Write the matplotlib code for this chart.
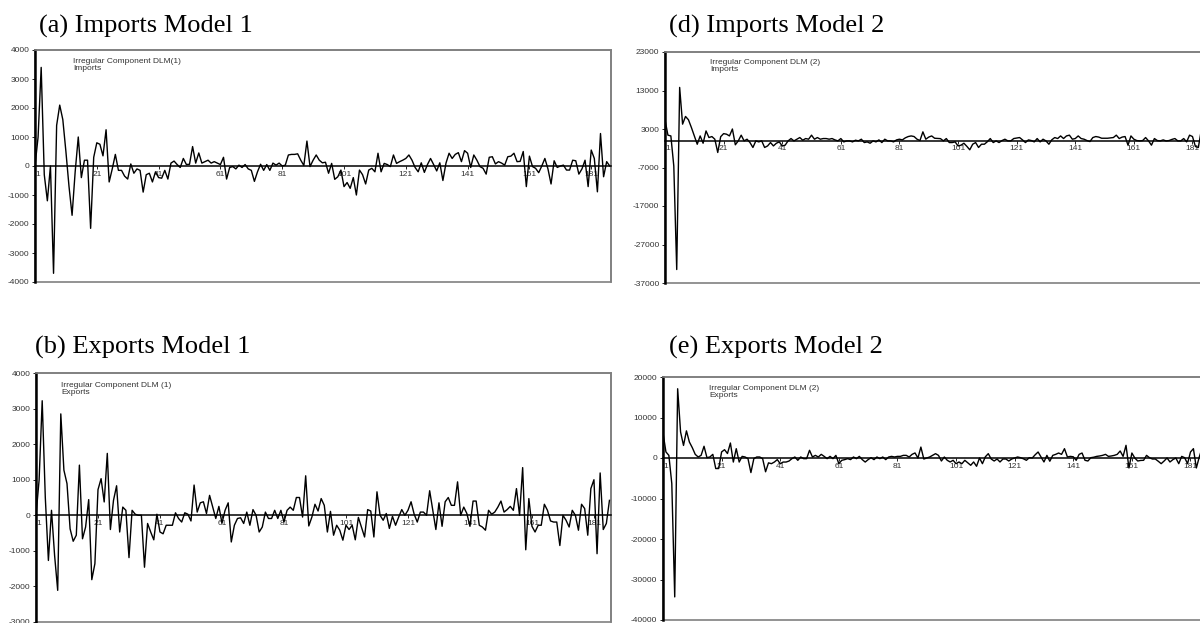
import numpy as np
import matplotlib as mpl
import matplotlib.pyplot as plt
from matplotlib.patches import Rectangle

mpl.rcParams['axes.unicode_minus'] = False
mpl.rcParams['font.family'] = 'Liberation Sans'

W, H = 1200, 623

# irregular components
imports_m1 = [0, 1000, 3400, -300, -1200, 0, -3700, 1400, 2100, 1600,
              500, -700, -1700, -200, 1000, -400, 200, 200, -2150, 300,
              800, 750, 350, 1250, -550, -100, 400, -150, -150, -350,
              -450, 70, -250, -100, -150, -900, -300, -250, -550, -200,
              -400, -420, -150, -450, 100, 170, 50, -50, 260, 50,
              60, 670, 100, 450, 100, 150, 200, 100, 150, 100,
              50, 300, -450, -50, -20, -100, 30, -50, 50, -100,
              -150, -530, -200, 60, -150, 50, -150, 100, 30, 100,
              0, 30, 380, 400, 400, 420, 200, 20, 860, -20,
              200, 380, 200, 110, 130, -250, 90, -460, -370, -140,
              -710, -570, -770, -400, -1000, -140, -300, -620, -140, -80,
              -200, 440, -200, 90, 50, -20, 380, 90, 150, 200,
              260, 380, 200, -50, -200, 110, -220, 50, 260, 50,
              -170, 110, -500, 100, 440, 260, 400, 460, 150, 530,
              440, -50, 380, 200, -20, -80, -280, 300, 320, 70,
              150, 100, 30, 320, 340, 440, 150, 160, 500, -710,
              340, -20, -80, -230, 0, 260, -100, -620, 180, -50,
              0, 30, -140, -140, 200, 180, -280, -100, 200, -710,
              550, 260, -890, 1120, -370, 150, 0]

exports_m1 = [0, 990, 3220, 500, -1270, 140, -1130, -2110, 2850, 1270,
              890, -380, -730, -560, 1410, -660, -330, 440, -1810, -1360,
              720, 1030, 375, 1740, -400, 420, 830, -470, 230, 140,
              -1190, 140, 30, 0, 0, -1460, -230, -470, -690, 30,
              -470, -520, -280, -280, -280, 70, -90, -190, 70, 30,
              -160, 850, 90, 350, 380, 50, 560, 230, -90, 250,
              -220, 140, 350, -750, -280, -90, -70, -230, 90, -280,
              160, 0, -470, -330, 90, -90, -90, 140, -90, 140,
              -190, 140, 230, 140, 500, 500, -50, 1110, -300, -50,
              310, 120, 470, 280, -470, 110, -560, -280, -420, -700,
              -280, -400, -280, -690, -60, -330, -610, 160, 120, -610,
              660, 0, -140, 50, -370, -30, -280, -50, 160, 0,
              140, 380, 30, -190, 90, 90, 0, 690, 140, -400,
              350, -310, 380, 500, 280, 280, 940, 0, 230, 50,
              -310, 400, 400, -280, -330, -420, 140, 30, 90, 230,
              400, 90, 160, 250, 140, 750, 0, 1340, -970, 470,
              -310, -470, -280, -280, 310, 140, -160, -190, -190, -850,
              0, -140, -330, 140, 0, -420, 310, 190, -560, 750,
              1000, -1080, 1190, -400, -230, 420]

imports_m2 = [5400, 1400, 1200, -6600, -33500, 13800, 4260, 6260, 5400, 3400,
              1200, -960, 1200, -700, 2500, 780, 1040, 350, -3100, 1000,
              1800, 1650, 1200, 3000, -1100, -90, 1400, -90, 350, -520,
              -1800, -90, -350, -90, -1800, -1400, -520, -1400, -700, -350,
              -1400, -1200, -90, 520, -90, 350, 780, 90, 520, 350,
              1400, 350, 780, 350, 520, 520, 350, 520, 170, -90,
              520, -350, -90, -90, -350, 90, -90, 350, -520, -350,
              -700, -90, -350, 170, -520, 350, -90, -90, -350, 170,
              350, 170, 700, 1040, 1200, 1040, 350, 0, 2260, 350,
              900, 1200, 600, 550, 500, -90, 520, -520, -520, -350,
              -1400, -1200, -700, -1500, -2400, -950, -520, -1800, -950, -950,
              -300, 520, -520, -90, -520, 0, 350, -90, -90, 520,
              650, 780, 170, -520, 170, 0, -350, 520, -350, 350,
              -90, -950, 200, 780, 520, 1200, 520, 1200, 1400, 350,
              520, 1200, 520, 350, 0, -260, 780, 1040, 900, 600,
              600, 600, 700, 780, 1400, 520, 900, 1040, -1200, 1200,
              350, 0, -90, 0, 780, -90, -1200, 520, 0, -90,
              170, -90, 0, 300, 520, -90, -90, 520, -350, 1400,
              1040, -1550, -1800, 2700]

exports_m2 = [6200, 1500, 650, -6300, -34300, 17100, 6400, 3100, 6700, 3950,
              2550, 900, 250, 650, 2900, 80, 250, 900, -2600, -2600,
              1500, 2050, 1100, 3700, -1000, 2300, -1000, 400, 250, -160,
              -3600, -160, 250, 250, -160, -3400, -1200, -1400, -1000, -400,
              -1400, -1000, -1000, -750, -160, 250, -570, 250, -160, -160,
              1900, 250, 650, 250, 900, 400, -160, 400, -160, 650,
              -1400, -570, -400, -160, -400, 250, -160, 400, -400, -1000,
              -400, 80, -400, 250, -160, 250, -400, 250, 400, 250,
              400, 400, 650, 650, 250, 900, 1250, 0, 2700, -250,
              0, 250, 650, 1070, 650, -740, 250, -570, -980, -570,
              -1400, -980, -1400, -570, -1200, -1800, -980, -2050, 0, -1400,
              300, 1070, -250, -740, -250, -980, -250, -250, -740, -250,
              0, 250, 80, -200, -570, 80, 0, 800, 1480, 250,
              -980, 650, -800, 650, 900, 1230, 900, 2300, 250, 400,
              300, -570, 900, 1230, -570, -740, 80, 200, 400, 500,
              650, 900, 400, 500, 650, 900, 1730, 400, 3130, -2460,
              1230, 0, -740, -600, -570, 650, 80, -250, -250, -800,
              -1400, -740, 0, -980, -400, 0, -1400, 400, 80, -1400,
              1480, 2300, -2460, 250, 2550]

titles = ['(a) Imports Model 1', '(b) Exports Model 1',
          '(d) Imports Model 2', '(e) Exports Model 2']
notes = ['Irregular Component DLM(1)\nImports', 'Irregular Component DLM (1)\nExports',
         'Irregular Component DLM (2)\nImports', 'Irregular Component DLM (2)\nExports']
x_ticks = np.arange(1, 182, 20)


def px_box(left, top, right, bottom):
    # pixel box -> figure fraction [l, b, w, h]
    return [left / W, 1 - bottom / H, (right - left) / W, (bottom - top) / H]


fig = plt.figure(figsize=(12, 6.23), dpi=100)

# box (px), xmax, ylim, y step, title xy (px), note xy (px)
layout = [
    (imports_m1, (35, 50, 611, 282), 187.4, (-4000, 4000), 1000, (39, 33), (73, 58)),
    (exports_m1, (36, 373, 611, 622), 186.5, (-3000, 4000), 1000, (35, 354), (61, 382)),
    (imports_m2, (665, 52, 1213, 283), 188, (-37000, 23000), 10000, (669, 33), (710, 59)),
    (exports_m2, (663, 377, 1211, 620), 188, (-40000, 20000), 10000, (669, 354), (709, 385)),
]

for i, (vals, box, xmax, ylim, step, tpos, npos) in enumerate(layout):
    ax = fig.add_axes(px_box(*box))
    t = np.arange(1, len(vals) + 1)
    ax.plot(t, vals, color='k', lw=1.0, zorder=3)
    ax.set_xlim(1, xmax)
    ax.set_ylim(*ylim)
    ax.set_yticks(np.arange(ylim[0], ylim[1] + 1, step))
    ax.set_xticks(x_ticks)

    ax.spines['bottom'].set_position(('data', 0))
    ax.spines['bottom'].set_color('k')
    ax.spines['bottom'].set_linewidth(1.1)
    for s in ['top', 'right']:
        ax.spines[s].set_color('#808080')
        ax.spines[s].set_linewidth(1.2)
    ax.spines['left'].set_color('k')
    ax.spines['left'].set_linewidth(1.8)
    ax.add_patch(Rectangle((0, 0), 1, 1, transform=ax.transAxes, fill=False,
                           ec='#808080', lw=1.2, clip_on=False, zorder=1))

    ax.tick_params(axis='both', labelsize=6, labelcolor='#333333',
                   length=2, width=0.6, direction='out')
    ax.tick_params(axis='x', pad=1.5)
    ax.tick_params(axis='y', pad=2)
    # the "1" label sits just right of the left spine
    ax.get_xticklabels()[0].set_horizontalalignment('left')

    fig.text(tpos[0] / W, 1 - tpos[1] / H, titles[i], family='Liberation Serif',
             fontsize=19, va='baseline', ha='left')
    fig.text(npos[0] / W, 1 - npos[1] / H, notes[i], fontsize=6,
             color='#333333', va='top', ha='left', linespacing=1.0)

fig.savefig('out.png', dpi=100)
